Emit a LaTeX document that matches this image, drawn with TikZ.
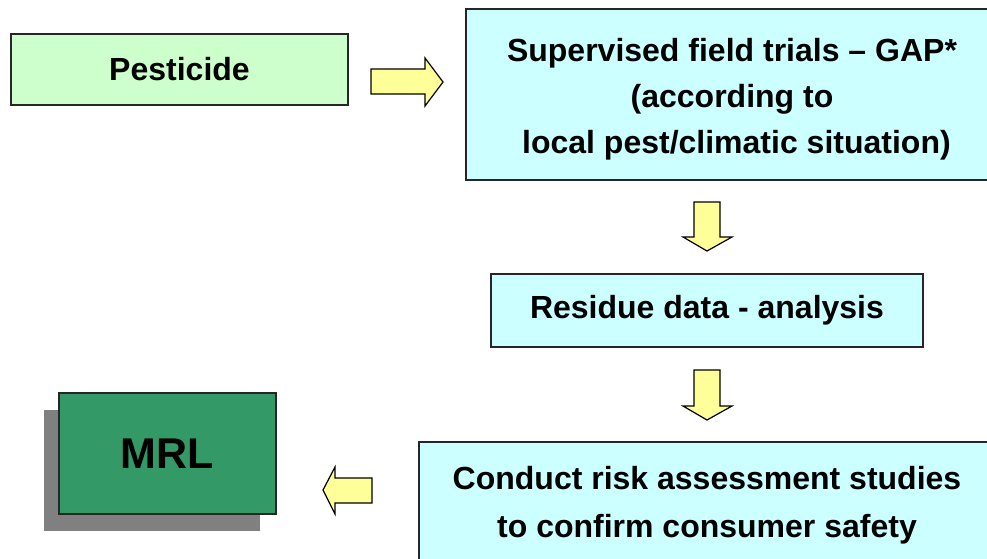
\documentclass[tikz,border=0pt]{standalone}
\usepackage{fontspec}
\setmainfont{Liberation Sans}
\definecolor{paleGreen}{HTML}{CCFFCC}
\definecolor{paleCyan}{HTML}{CCFFFF}
\definecolor{mrlGreen}{HTML}{339966}
\definecolor{shadowGray}{HTML}{808080}
\definecolor{arrowYellow}{HTML}{FFFF99}
\begin{document}
\begin{tikzpicture}[x=1pt,y=-1pt,
  boxline/.style={draw=black!85, line width=1.2pt},
  txt/.style={font=\bfseries\fontsize{32}{46}\selectfont, align=center, inner sep=0pt},
  blockarrow/.style={draw=black, line width=1.2pt, fill=arrowYellow, line join=miter}]
\useasboundingbox (0,0) rectangle (987,558);
\clip (0,0) rectangle (987,558);
\fill[white] (0,0) rectangle (987,558);

% Pesticide
\node[boxline, fill=paleGreen, txt, minimum width=337pt, minimum height=71pt] (pest) at (179.5,69.5) {Pesticide};

% Supervised field trials box
\path[boxline, fill=paleCyan] (466,9) rectangle (1000,180);
\node[txt] (sft) at (732,99.5) {Supervised field trials -- GAP*\\(according to\\ \ local pest/climatic situation)};

% Residue
\node[boxline, fill=paleCyan, txt, minimum width=432pt, minimum height=73pt] (res) at (707,310.5) {Residue data - analysis};

% Conduct box
\path[boxline, fill=paleCyan] (419,442) rectangle (1000,600);
\node[txt, font=\bfseries\fontsize{32}{48}\selectfont] (risk) at (707,505) {Conduct risk assessment studies\\to confirm consumer safety};

% MRL with shadow
\fill[shadowGray] (44,410) rectangle (260,531);
\node[boxline, fill=mrlGreen, minimum width=217pt, minimum height=121pt, inner sep=0pt,
      font=\bfseries\fontsize{43}{50}\selectfont] (mrl) at (167.5,453.5) {MRL};

% Block arrows
\draw[blockarrow] (371,69) -- (425,69) -- (425,58) -- (443,82) -- (425,106) -- (425,94) -- (371,94) -- cycle;
\draw[blockarrow] (694,202) -- (720,202) -- (720,237) -- (732,237) -- (707,251) -- (683,237) -- (694,237) -- cycle;
\draw[blockarrow] (694,370) -- (720,370) -- (720,406) -- (732,406) -- (707,420) -- (683,406) -- (694,406) -- cycle;
\draw[blockarrow] (372,478) -- (335,478) -- (335,467) -- (323,490) -- (335,514) -- (335,503) -- (372,503) -- cycle;
\end{tikzpicture}
\end{document}
